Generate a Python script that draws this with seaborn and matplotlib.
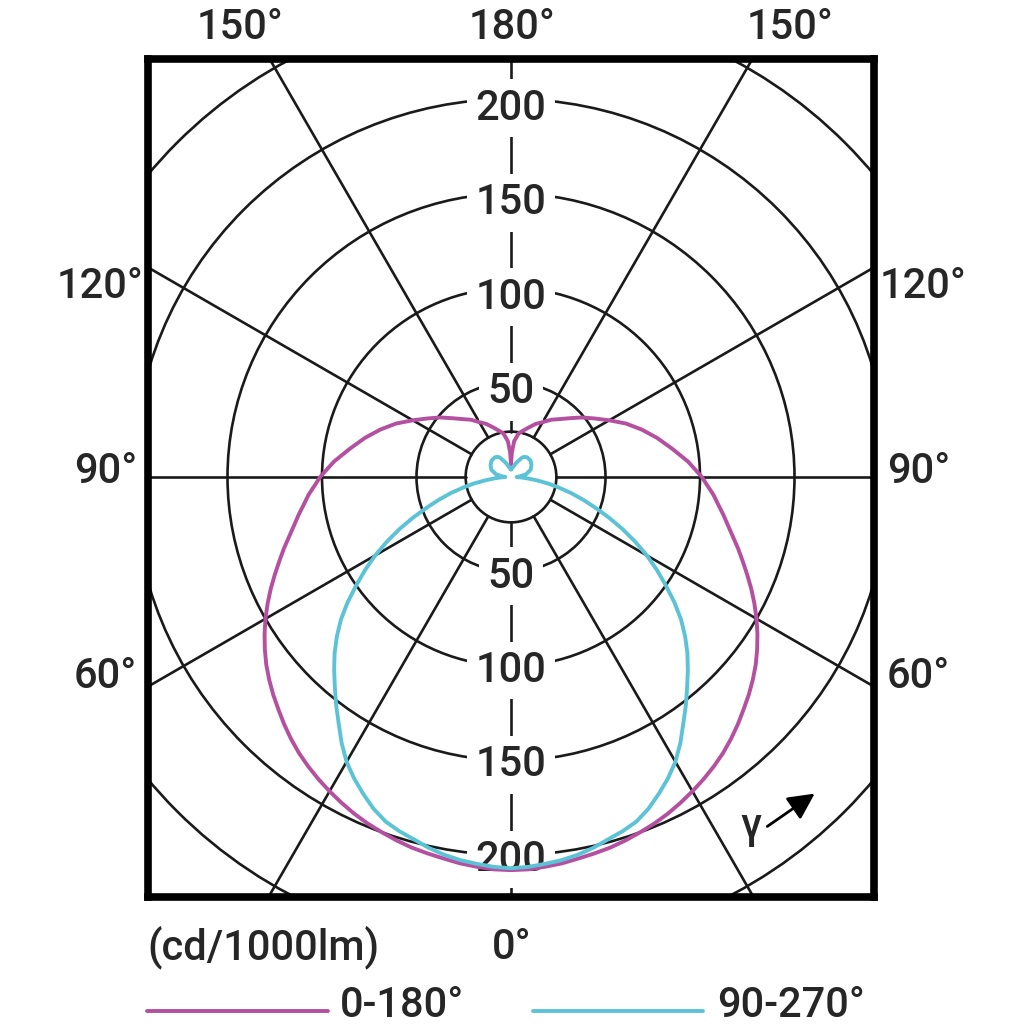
import matplotlib
matplotlib.use('Agg')
import matplotlib.pyplot as plt
import numpy as np
import pandas as pd
import seaborn as sns
from matplotlib import font_manager
from matplotlib.lines import Line2D
from matplotlib.patches import Circle

# luminous intensity (cd/1000lm) against gamma
gamma_0_180 = [0, 2.5, 5, 7.5, 10, 12.5, 15, 17.5, 20, 22.5, 25, 27.5, 30, 32.5, 35, 37.5,
               40, 42.5, 45, 47.5, 50, 52.5, 55, 57.5, 60, 62.5, 65, 67.5, 70, 72.5, 75,
               77.5, 80, 82.5, 85, 87.5, 90, 95, 100, 105, 110, 115, 120, 125, 130, 135,
               140, 145, 150, 155, 160, 165, 170, 175, 178, 180]
intensity_0_180 = [208, 207.8, 207, 206.2, 205, 204, 203, 201.6, 200, 198.4, 196.5, 194.3,
                   192, 189.6, 187, 184.2, 181, 177.6, 174, 170.6, 167, 163.2, 159, 154.6,
                   150, 145.2, 140.3, 135.3, 130.5, 126, 121.5, 117.5, 114, 110.5, 107.5, 104,
                   101, 94, 86.5, 80, 73.5, 67, 60, 54, 49, 44, 40, 37, 33.5, 31, 28, 25.5,
                   23.5, 19, 13, 7]

gamma_90_270 = [0, 2.5, 5, 7.5, 10, 12.5, 15, 17.5, 20, 22.5, 25, 27.5, 30, 32.5, 35, 37.5,
                40, 42.5, 45, 47.5, 50, 52.5, 55, 57.5, 60, 62.5, 65, 67.5, 70, 72.5, 75,
                77.5, 80, 82.5, 85, 87.5, 90, 95, 100, 110, 120, 130, 140, 145, 150, 160,
                170, 175, 180]
intensity_90_270 = [207, 206.5, 205.5, 204.5, 203, 201, 198.5, 196.5, 194, 190, 185, 179.8,
                    174, 166.8, 159, 152, 145, 138.5, 132, 125, 117.5, 109, 100, 91.5, 83,
                    74, 65, 56, 47.5, 40, 33, 26, 20, 14, 9, 5.5, 3, 5, 8, 11, 12.5, 13.5,
                    13.5, 13, 12, 8, 5, 4.5, 4]

ring_values = [50, 100, 150, 200]
grid_rings = [50, 100, 150, 200, 250, 300]
spoke_angles = [30, 60, 90, 120, 150]
plane_names = ['0-180°', '90-270°']
plane_colors = ['#b4509f', '#5cc3d7']

installed = {f.name for f in font_manager.fontManager.ttflist}
font = next((f for f in ['Liberation Sans Narrow', 'DejaVu Sans Condensed', 'Roboto']
             if f in installed), 'DejaVu Sans')

sns.set_style('white')
plt.rcParams['font.family'] = [font, 'DejaVu Sans']
plt.rcParams['font.weight'] = 'medium'
FS = 30


def to_xy(gamma, intensity):
    # mirror each half plane so the curve runs from -180 to 180 degrees
    g = np.deg2rad(np.concatenate([-np.array(gamma[::-1]), np.array(gamma[1:])]))
    i = np.concatenate([np.array(intensity[::-1]), np.array(intensity[1:])])
    return i * np.sin(g), -i * np.cos(g)


frames = []
for name, g, i in [(plane_names[0], gamma_0_180, intensity_0_180),
                   (plane_names[1], gamma_90_270, intensity_90_270)]:
    x, y = to_xy(g, i)
    frames.append(pd.DataFrame({'x': x, 'y': y, 'plane': name}))
df = pd.concat(frames, ignore_index=True)

# frame in pixels of the 1024 px image, centre of the diagram and px per cd
W = 1024
left, right, top, bottom = 148, 874, 59, 897
cx, cy, scale = 511, 477, 1.89

fig = plt.figure(figsize=(W / 100, W / 100), dpi=100)
ax = fig.add_axes([left / W, 1 - bottom / W, (right - left) / W, (bottom - top) / W])

grid_kw = dict(color='#1a1a1a', lw=1.9, zorder=1)
ax.add_patch(Circle((0, 0), 24, fill=False, **grid_kw))
for r in grid_rings:
    ax.add_patch(Circle((0, 0), r, fill=False, **grid_kw))
for a in spoke_angles:
    t = np.deg2rad(a)
    for s in (-1, 1):
        ax.plot([s * 24 * np.sin(t), s * 500 * np.sin(t)],
                [-24 * np.cos(t), -500 * np.cos(t)], **grid_kw)
ax.plot([0, 0], [24, 500], **grid_kw)
ax.plot([0, 0], [-24, -500], **grid_kw)

for r in ring_values:
    for y in (r - 2.5, -r):
        ax.text(0, y, str(r), fontsize=FS, ha='center', va='center_baseline', zorder=2,
                bbox=dict(facecolor='white', edgecolor='none', pad=6))

sns.lineplot(data=df, x='x', y='y', hue='plane', palette=plane_colors, sort=False,
             estimator=None, lw=2.8, legend=False, ax=ax, zorder=3)

ax.set_xlim((left - cx) / scale, (right - cx) / scale)
ax.set_ylim((cy - bottom) / scale, (cy - top) / scale)
ax.set_xticks([])
ax.set_yticks([])
ax.set_xlabel('')
ax.set_ylabel('')
for sp in ax.spines.values():
    sp.set_visible(True)
    sp.set_linewidth(5.5)
    sp.set_color('black')


def ftext(px, py, s, **kw):
    fig.text(px / W, 1 - py / W, s, fontsize=FS, va='center_baseline', **kw)


ftext(240, 23, '150°', ha='center')
ftext(512, 23, '180°', ha='center')
ftext(790, 23, '150°', ha='center')
for py, s, lx, rx in [(282, '120°', 143, 880), (467, '90°', 137, 887), (672, '60°', 137, 887)]:
    ftext(lx, py, s, ha='right')
    ftext(rx, py, s, ha='left')
ftext(512, 943, '0°', ha='center')
ftext(147, 942, '(cd/1000lm)', ha='left')

# gamma direction marker
ftext(751, 822, 'γ', ha='center')
ax.annotate('', xy=(817 / W, 1 - 792 / W), xytext=(765 / W, 1 - 828 / W),
            xycoords='figure fraction', textcoords='figure fraction',
            arrowprops=dict(arrowstyle='-|>', color='black', lw=2, mutation_scale=40))

# legend along the bottom edge
for (x0, x1, tx), name, col in zip([(147, 328, 340), (533, 703, 717)], plane_names, plane_colors):
    fig.add_artist(Line2D([x0 / W, x1 / W], [1 - 1011 / W] * 2, color=col, lw=2.8))
    ftext(tx, 1001, name, ha='left')

fig.savefig('out.png', dpi=100)
